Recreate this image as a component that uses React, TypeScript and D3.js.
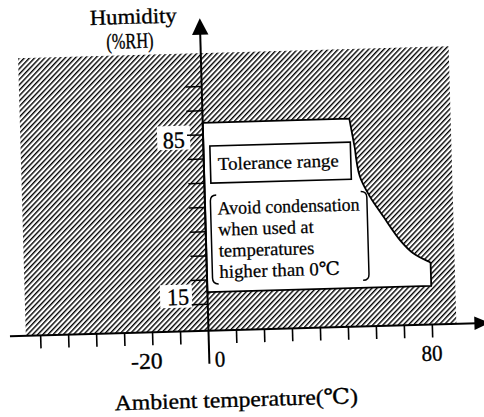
import React from 'react';
import * as d3 from 'd3';

// ---- data ----
const xTicks = [-60, -50, -40, -30, -20, -10, 10, 20, 30, 40, 50, 60, 70, 80];
const yTicks = [10, 20, 30, 40, 50, 60, 70, 80, 90, 100];
const xLabels = [
  { v: -20, t: '-20' },
  { v: 0, t: '0' },
  { v: 80, t: '80' },
];
const yLabels = [85, 15];
const hatchT = [-65.3, 88.6];
const hatchH = [-0.9, 113.8];
// tolerance region outline (temperature °C, humidity %RH)
const toleranceTop: [number, number][] = [[0, 85], [52.4, 85], [54.1, 72.7]];
const curveT = [54.1, 55.6, 59.0, 63.6, 69.3, 73.9, 79.2];
const curveH = [72.7, 61.0, 52.6, 44.2, 34.3, 28.7, 25.2];
const toleranceBottom: [number, number][] = [[80, 24.6], [80, 15], [0, 15]];
const noteLines = ['Avoid condensation', 'when used at', 'temperatures', 'higher than 0℃'];
const noteWidths = [142, 95.5, 95.5, 120.5];

const FONT = "'Liberation Serif', 'DejaVu Serif', serif";
const TXT = { fontFamily: FONT, stroke: '#000', strokeWidth: 0.35, fill: '#000' } as const;

export default function App() {
  const W = 484;
  const H = 417;
  const x = d3.scaleLinear().domain([0, 80]).range([0, 223.9]);
  const y = d3.scaleLinear().domain([0, 100]).range([-2.2, -244.3]);

  const line = d3
    .line<[number, number]>()
    .x((d) => x(d[0]))
    .y((d) => y(d[1]));
  const curve = d3
    .line<[number, number]>()
    .x((d) => x(d[0]))
    .y((d) => y(d[1]))
    .curve(d3.curveCatmullRom.alpha(0.5));
  const curvePts = curveT.map((t, i) => [t, curveH[i]] as [number, number]);
  const regionPath =
    (line(toleranceTop) as string) +
    (curve(curvePts) as string).replace(/^M/, 'L') +
    (line(toleranceBottom) as string).replace(/^M/, 'L') +
    'Z';

  const hx0 = x(hatchT[0]);
  const hx1 = x(hatchT[1]);
  const hy0 = y(hatchH[1]);
  const hy1 = y(hatchH[0]);

  const axisW = 2;
  const yTop = -312.6;
  const xEnd = 281;

  return (
    <svg
      width={W}
      height={H}
      viewBox={`0 0 ${W} ${H}`}
      style={{ position: 'absolute', left: 0, top: 0, background: '#fff' }}
    >
      <defs>
        <pattern
          id="hatch"
          patternUnits="userSpaceOnUse"
          width={3.7}
          height={3.7}
          patternTransform="rotate(45)"
        >
          <rect width={3.7} height={3.7} fill="#fff" />
          <rect x={0} width={1.4} height={3.7} fill="#000" />
        </pattern>
      </defs>
      <rect width={W} height={H} fill="#fff" />
      <g transform="translate(208.5,330.7) rotate(-1.6)">
        {/* hatched area */}
        <rect x={hx0} y={hy0} width={hx1 - hx0} height={hy1 - hy0} fill="url(#hatch)" />

        {/* white label boxes over hatch */}
        <rect x={-46} y={y(85) + 2.3} width={33} height={24} fill="#fff" />
        <rect x={-47.5} y={y(15) - 8.2} width={32} height={23} fill="#fff" />

        {/* tolerance region */}
        <path d={regionPath} fill="#fff" stroke="#000" strokeWidth={1.8} strokeLinejoin="round" />

        {/* y ticks */}
        {yTicks.map((v) => (
          <line key={'yt' + v} x1={-16} x2={0} y1={y(v)} y2={y(v)} stroke="#000" strokeWidth={1.5} />
        ))}
        {/* x ticks */}
        {xTicks.map((v) => (
          <line key={'xt' + v} x1={x(v)} x2={x(v)} y1={0} y2={13} stroke="#000" strokeWidth={1.6} />
        ))}

        {/* axes */}
        <line x1={0} x2={0} y1={33} y2={yTop + 14} stroke="#000" strokeWidth={axisW} />
        <path d={`M0,${yTop}L-8.2,${yTop + 16.5}L8.2,${yTop + 16.5}Z`} fill="#000" />
        <line x1={-198.6} x2={xEnd - 12} y1={0} y2={0} stroke="#000" strokeWidth={axisW} />
        <path d={`M${xEnd},0L${xEnd - 15},-6.8L${xEnd - 15},6.8Z`} fill="#000" />

        {/* y labels */}
        {yLabels.map((v) => (
          <text
            key={'yl' + v}
            {...TXT}
            x={-29.5}
            y={v === 85 ? y(85) + 24.5 : y(15) + 11.9}
            textAnchor="middle"
            fontSize={23.5}
            textLength={22}
            lengthAdjust="spacingAndGlyphs"
          >
            {v}
          </text>
        ))}
        {/* x labels */}
        {xLabels.map((d) => (
          <text
            key={'xl' + d.v}
            {...TXT}
            x={d.v === -20 ? x(d.v) - 6.5 : d.v === 0 ? x(d.v) + 10.7 : x(d.v) - 1}
            y={36.3}
            textAnchor="middle"
            fontSize={22.5}
            textLength={d.t.length * 10.5}
            lengthAdjust="spacingAndGlyphs"
          >
            {d.t}
          </text>
        ))}

        {/* axis titles */}
        <text {...TXT} x={-110} y={-309} fontSize={21.5} textLength={87} lengthAdjust="spacingAndGlyphs">
          Humidity
        </text>
        <text {...TXT} x={-94} y={-284.5} fontSize={22} textLength={47} lengthAdjust="spacingAndGlyphs">
          (%RH)
        </text>
        <text {...TXT} x={-95.6} y={76.8} fontSize={21.5} textLength={243} lengthAdjust="spacingAndGlyphs">
          Ambient temperature(℃)
        </text>

        {/* tolerance range box */}
        <rect x={6.5} y={-184.5} width={140.5} height={37} fill="#fff" stroke="#000" strokeWidth={1.6} />
        <text {...TXT} strokeWidth={0.25} x={14} y={-160.4} fontSize={18} textLength={121} lengthAdjust="spacingAndGlyphs">
          Tolerance range
        </text>

        {/* condensation note with brackets */}
        <path
          d="M11.5,-135.5 Q5.5,-135.5 5.5,-129.5 L5.5,-52.5 Q5.5,-46.5 11.5,-46.5"
          fill="none"
          stroke="#000"
          strokeWidth={1.5}
        />
        <path
          d="M156,-135 Q162,-135 162,-129 L162,-52 Q162,-46 156,-46"
          fill="none"
          stroke="#000"
          strokeWidth={1.5}
        />
        {noteLines.map((t, i) => (
          <text
            key={t}
            {...TXT}
            strokeWidth={0.25}
            x={12.5}
            y={-116 + i * 21.2}
            fontSize={18.5}
            textLength={noteWidths[i]}
            lengthAdjust="spacingAndGlyphs"
          >
            {t}
          </text>
        ))}
      </g>
    </svg>
  );
}
